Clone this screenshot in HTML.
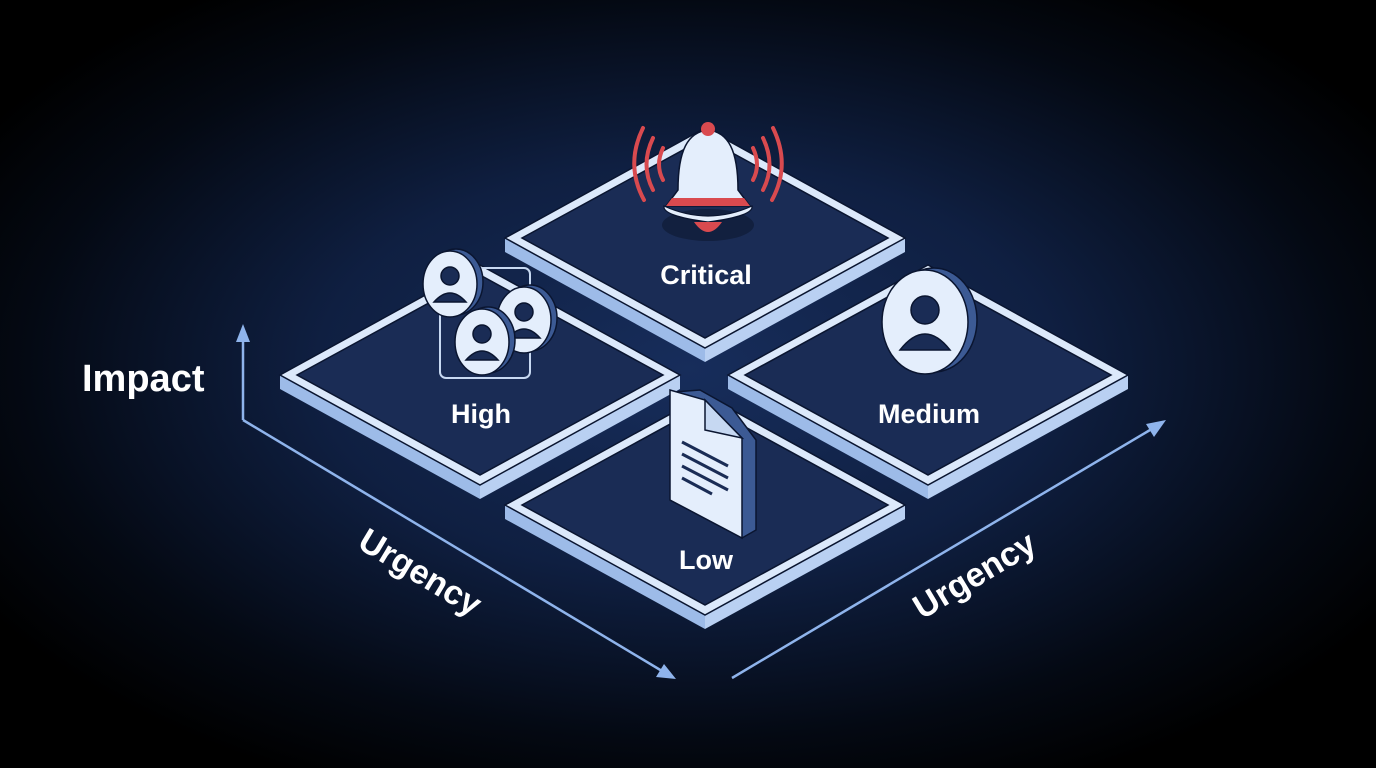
<!DOCTYPE html>
<html><head><meta charset="utf-8"><style>
html,body{margin:0;padding:0;background:#000;}
svg{display:block}
text{font-family:"Liberation Sans",sans-serif;fill:#fff;font-weight:bold}
</style></head><body>
<svg width="1376" height="768" viewBox="0 0 1376 768" xmlns="http://www.w3.org/2000/svg">
<defs>
<radialGradient id="bg" cx="50%" cy="48%" r="60%">
<stop offset="0" stop-color="#172d5b"/>
<stop offset="0.45" stop-color="#0f1f41"/>
<stop offset="0.8" stop-color="#040913"/>
<stop offset="1" stop-color="#000"/>
</radialGradient>
</defs>
<rect width="1376" height="768" fill="url(#bg)"/>

<!-- axes -->
<g stroke="#8fb4ec" stroke-width="2.5" fill="none">
<polyline points="243,420 243,340"/>
<polyline points="243,420 662,671"/>
<polyline points="732,678 1150,430"/>
</g>
<path d="M243,324 L236,342 L250,342 z" fill="#8fb4ec"/>
<path d="M676,679 L656,677 L664,664 z" fill="#8fb4ec"/>
<path d="M1166,420 L1154,437 L1146,424 z" fill="#8fb4ec"/>

<text x="82" y="391" font-size="38">Impact</text>
<text x="0" y="0" font-size="34" transform="translate(356,547) rotate(31)">Urgency</text>
<text x="0" y="0" font-size="34" transform="translate(922,620) rotate(-31)">Urgency</text>

<g id="tiles">
<g>
<polygon points="505,238 705,348 705,362 505,252" fill="#9dbbe8"/>
<polygon points="705,348 905,238 905,252 705,362" fill="#b9d0f2"/>
<polygon points="505,238 705,128 905,238 705,348" fill="#dce9fb" stroke="#0a1530" stroke-width="1.5"/>
<polygon points="522,238 705,138 888,238 705,338" fill="#1a2c55" stroke="#0a1530" stroke-width="1.5"/>
</g>
<g>
<polygon points="280,375 480,485 480,499 280,389" fill="#9dbbe8"/>
<polygon points="480,485 680,375 680,389 480,499" fill="#b9d0f2"/>
<polygon points="280,375 480,265 680,375 480,485" fill="#dce9fb" stroke="#0a1530" stroke-width="1.5"/>
<polygon points="297,375 480,275 663,375 480,475" fill="#1a2c55" stroke="#0a1530" stroke-width="1.5"/>
</g>
<g>
<polygon points="728,375 928,485 928,499 728,389" fill="#9dbbe8"/>
<polygon points="928,485 1128,375 1128,389 928,499" fill="#b9d0f2"/>
<polygon points="728,375 928,265 1128,375 928,485" fill="#dce9fb" stroke="#0a1530" stroke-width="1.5"/>
<polygon points="745,375 928,275 1111,375 928,475" fill="#1a2c55" stroke="#0a1530" stroke-width="1.5"/>
</g>
<g>
<polygon points="505,505 705,615 705,629 505,519" fill="#9dbbe8"/>
<polygon points="705,615 905,505 905,519 705,629" fill="#b9d0f2"/>
<polygon points="505,505 705,395 905,505 705,615" fill="#dce9fb" stroke="#0a1530" stroke-width="1.5"/>
<polygon points="522,505 705,405 888,505 705,605" fill="#1a2c55" stroke="#0a1530" stroke-width="1.5"/>
</g>
</g>

<text x="706" y="284" font-size="27" text-anchor="middle">Critical</text>
<text x="481" y="423" font-size="27" text-anchor="middle">High</text>
<text x="929" y="423" font-size="27" text-anchor="middle">Medium</text>
<text x="706" y="569" font-size="27" text-anchor="middle">Low</text>

<!-- bell -->
<g>
<ellipse cx="708" cy="225" rx="46" ry="16" fill="#12203f"/>
<path d="M678,190 C678,150 688,132 708,130 C728,132 738,150 738,190 L750,206 L666,206 Z" fill="#e4eefc" stroke="#0a1530" stroke-width="1.5"/>
<path d="M672,198 L744,198 L750,206 L666,206 Z" fill="#d94a4f"/>
<path d="M664,206 Q708,226 752,206 Q754,216 708,222 Q662,216 664,206 Z" fill="#e4eefc" stroke="#0a1530" stroke-width="1.2"/>
<path d="M694,222 Q708,242 722,222 Z" fill="#d94a4f"/>
<circle cx="708" cy="129" r="7" fill="#d94a4f"/>
<g stroke="#d94a4f" stroke-width="4" fill="none" stroke-linecap="round">
<path d="M663,148 Q655,165 663,180"/><path d="M653,138 Q640,165 653,190"/><path d="M643,128 Q625,165 644,200"/>
<path d="M753,148 Q761,165 753,180"/><path d="M763,138 Q776,165 763,190"/><path d="M773,128 Q791,165 772,200"/>
</g>
</g>

<!-- people -->
<g stroke="#0a1530" stroke-width="1.5">
<rect x="440" y="268" width="90" height="110" rx="6" fill="none" stroke="#c8d9f2" stroke-width="2"/>
<g>
<ellipse cx="456" cy="282" rx="27" ry="33" fill="#3c5a94"/>
<ellipse cx="450" cy="284" rx="27" ry="33" fill="#e4eefc"/>
<circle cx="450" cy="276" r="9" fill="#1a2c55"/><path d="M434,302 Q450,284 466,302 Z" fill="#1a2c55"/>
</g>
<g>
<ellipse cx="530" cy="318" rx="27" ry="33" fill="#3c5a94"/>
<ellipse cx="524" cy="320" rx="27" ry="33" fill="#e4eefc"/>
<circle cx="524" cy="312" r="9" fill="#1a2c55"/><path d="M508,338 Q524,320 540,338 Z" fill="#1a2c55"/>
</g>
<g>
<ellipse cx="488" cy="340" rx="27" ry="33" fill="#3c5a94"/>
<ellipse cx="482" cy="342" rx="27" ry="33" fill="#e4eefc"/>
<circle cx="482" cy="334" r="9" fill="#1a2c55"/><path d="M466,360 Q482,342 498,360 Z" fill="#1a2c55"/>
</g>
<ellipse cx="934" cy="320" rx="43" ry="52" fill="#3c5a94"/>
<ellipse cx="925" cy="322" rx="43" ry="52" fill="#e4eefc"/>
<circle cx="925" cy="310" r="14" fill="#1a2c55"/><path d="M900,350 Q925,318 950,350 Z" fill="#1a2c55"/>
</g>

<!-- document -->
<g stroke="#0a1530" stroke-width="1.5">
<path d="M674,392 L700,390 L732,408 L756,440 L756,530 L742,538 Z" fill="#3c5a94"/>
<path d="M670,390 L705,400 L742,438 L742,538 L670,500 Z" fill="#e4eefc"/>
<path d="M705,400 L705,430 L742,438 Z" fill="#c6d8f2"/>
<g stroke="#1a2c55" stroke-width="3">
<line x1="682" y1="442" x2="728" y2="466"/><line x1="682" y1="454" x2="728" y2="478"/>
<line x1="682" y1="466" x2="728" y2="490"/><line x1="682" y1="478" x2="712" y2="494"/>
</g>
</g>
</svg>
</body></html>
